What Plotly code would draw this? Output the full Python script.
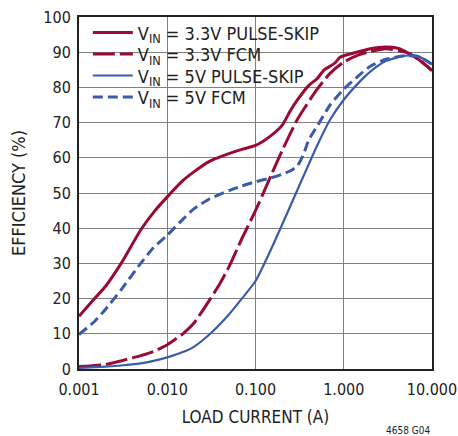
import plotly.graph_objects as go

# ---- data ----
ps33_x = [0.001, 0.0015, 0.002, 0.003, 0.005, 0.007, 0.01, 0.015, 0.02, 0.03, 0.05, 0.07, 0.1, 0.15, 0.2, 0.25, 0.3, 0.4, 0.5, 0.6, 0.7, 0.8, 0.9, 1.0, 1.5, 2, 3, 4, 5, 7, 10]
ps33_y = [15.0, 20.0, 23.5, 30.0, 39.5, 44.5, 48.9, 53.5, 56.0, 59.0, 61.2, 62.4, 63.5, 66.3, 69.2, 73.5, 76.5, 80.5, 82.5, 85.0, 86.0, 87.0, 88.5, 89.0, 90.2, 91.0, 91.5, 91.2, 90.2, 88.0, 84.8]

fcm33_x = [0.001, 0.002, 0.003, 0.005, 0.007, 0.01, 0.015, 0.02, 0.03, 0.04, 0.05, 0.07, 0.1, 0.15, 0.2, 0.3, 0.5, 0.7, 1.0, 1.5, 2, 3, 5, 7, 10]
fcm33_y = [0.7, 1.3, 2.3, 3.8, 5.0, 6.9, 10.0, 13.0, 19.5, 24.5, 29.0, 37.0, 45.0, 55.0, 62.0, 71.0, 79.5, 84.0, 87.2, 89.3, 90.2, 91.0, 90.0, 88.0, 84.8]

ps5_x = [0.001, 0.002, 0.003, 0.005, 0.007, 0.01, 0.015, 0.02, 0.03, 0.05, 0.07, 0.1, 0.15, 0.2, 0.3, 0.5, 0.7, 1.0, 1.5, 2, 3, 5, 7, 10]
ps5_y = [0.3, 0.7, 1.0, 1.6, 2.3, 3.3, 4.8, 6.3, 9.8, 15.5, 20.0, 25.0, 34.0, 41.0, 51.0, 63.5, 70.8, 76.5, 81.5, 84.5, 87.5, 89.0, 88.8, 86.6]

fcm5_x = [0.001, 0.0015, 0.002, 0.003, 0.005, 0.007, 0.01, 0.015, 0.02, 0.03, 0.05, 0.07, 0.1, 0.15, 0.2, 0.25, 0.3, 0.35, 0.4, 0.5, 0.7, 1.0, 1.5, 2, 3, 5, 7, 10]
fcm5_y = [9.8, 13.5, 17.0, 22.5, 30.0, 34.5, 38.0, 42.5, 45.5, 48.3, 50.7, 52.0, 53.2, 54.3, 55.3, 56.3, 57.8, 61.0, 65.0, 69.0, 75.0, 79.5, 83.5, 86.0, 88.0, 89.0, 88.8, 86.6]

x_tickvals = [0.001, 0.01, 0.1, 1, 10]
x_ticktext = ["0.001", "0.010", "0.100", "1.000", "10.000"]

RED = "#9A0A32"
BLUE = "#3A5BAA"
FONT = "DejaVu Sans Condensed, Liberation Sans Narrow, Arial Narrow, sans-serif"

fig = go.Figure()
fig.add_trace(go.Scatter(x=ps33_x, y=ps33_y, mode="lines", legend="legend",
                         name="V<sub>IN</sub> = 3.3V PULSE-SKIP",
                         line=dict(color=RED, width=3, shape="spline", smoothing=0.6)))
fig.add_trace(go.Scatter(x=fcm33_x, y=fcm33_y, mode="lines", legend="legend2",
                         name="V<sub>IN</sub> = 3.3V FCM",
                         line=dict(color=RED, width=3, dash="22px,5px", shape="spline", smoothing=0.6)))
fig.add_trace(go.Scatter(x=ps5_x, y=ps5_y, mode="lines", legend="legend3",
                         name="V<sub>IN</sub> = 5V PULSE-SKIP",
                         line=dict(color=BLUE, width=2.2, shape="spline", smoothing=0.6)))
fig.add_trace(go.Scatter(x=fcm5_x, y=fcm5_y, mode="lines", legend="legend4",
                         name="V<sub>IN</sub> = 5V FCM",
                         line=dict(color=BLUE, width=3, dash="10px,5px", shape="spline", smoothing=0.5)))

def leg(yc):
    return dict(x=0.025, y=yc, xanchor="left", yanchor="middle",
                bgcolor="rgba(0,0,0,0)", borderwidth=0,
                font=dict(family=FONT, size=18, color="#222222"),
                itemwidth=40)

fig.update_layout(
    width=458, height=436,
    margin=dict(l=79, r=26, t=17, b=67, autoexpand=False),
    paper_bgcolor="white", plot_bgcolor="white",
    font=dict(family=FONT, size=16, color="#222222"),
    showlegend=True,
    legend=leg(0.955),
    legend2=leg(0.894),
    legend3=leg(0.833),
    legend4=leg(0.772),
    xaxis=dict(type="log", range=[-3, 1], tickvals=x_tickvals, ticktext=x_ticktext,
               showgrid=True, gridcolor="#808080", gridwidth=1,
               showline=True, linecolor="#222222", linewidth=2, mirror=True,
               ticks="", zeroline=False, automargin=False,
               ticklabeloverflow="allow", ticklabelstandoff=5,
               tickfont=dict(size=16),
               title=dict(text="LOAD CURRENT (A)", font=dict(size=17), standoff=13)),
    yaxis=dict(range=[0, 100], dtick=10,
               showgrid=True, gridcolor="#808080", gridwidth=1,
               showline=True, linecolor="#222222", linewidth=2, mirror=True,
               ticks="", zeroline=False, automargin=False,
               ticklabelstandoff=3, tickfont=dict(size=16),
               title=dict(text="EFFICIENCY (%)", font=dict(size=18), standoff=13)),
    shapes=[dict(type="rect", xref="paper", yref="paper",
                 x0=0.0, x1=0.674, y0=0.705, y1=0.987,
                 fillcolor="white", line=dict(width=0), layer="between")],
)
fig.layout.annotations = [dict(text="4658 G04", x=1.0, y=-0.176, xref="paper", yref="paper",
                               xanchor="right", yanchor="middle", showarrow=False,
                               font=dict(family=FONT, size=10, color="#222222"))]

fig.write_html("out.html", config={"displayModeBar": False},
               post_script="document.body.style.margin='0';")
